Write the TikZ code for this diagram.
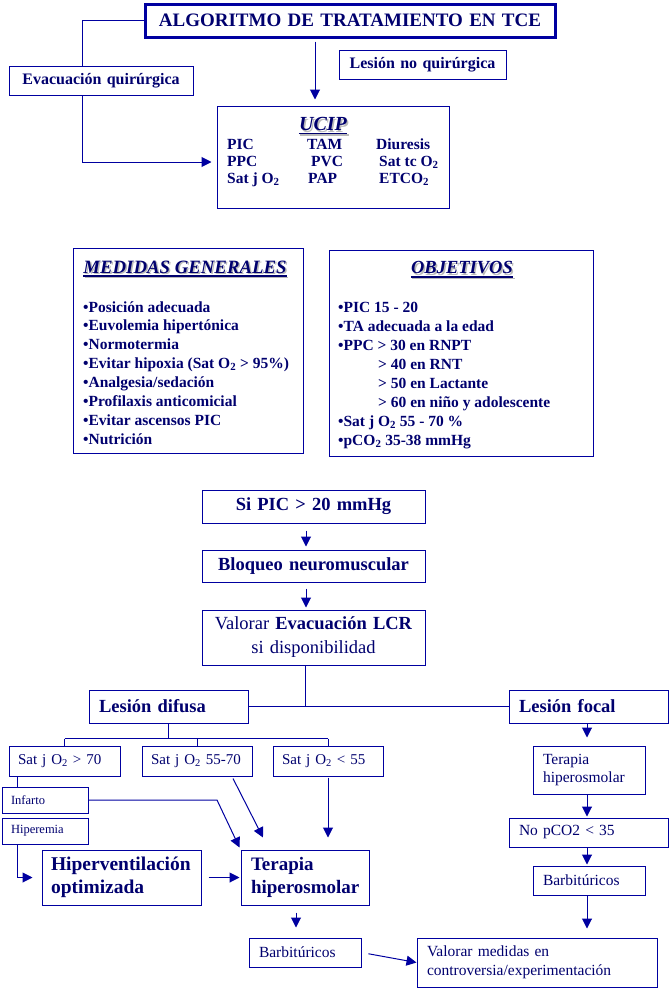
\documentclass[tikz,border=0pt]{standalone}
\usepackage{fontspec}
\setmainfont{Liberation Serif}
\usetikzlibrary{arrows.meta}
\definecolor{boxblue}{RGB}{0,0,160}
\definecolor{navy}{RGB}{0,0,110}
\tikzset{
  box/.style={draw=boxblue, line width=1pt, text=navy, inner ysep=0pt, inner xsep=10pt, align=left},
  bigb/.style={font=\fontsize{18.5}{23}\selectfont\bfseries},
  small/.style={font=\fontsize{15.5}{18.5}\selectfont},
  item/.style={font=\fontsize{15.5}{19}\selectfont\bfseries, text=navy, inner sep=0pt},
  head/.style={text=navy, inner sep=0pt},
  link/.style={draw=boxblue, line width=1pt},
  arr/.style={link, -{Triangle[length=10pt,width=10pt]}},
}
\begin{document}
\begin{tikzpicture}[x=1pt,y=-1pt]
\useasboundingbox (0,0) rectangle (670,988);
% cabecera y monitorizacion
\node[box, line width=3pt, font=\fontsize{19}{23}\selectfont\bfseries, text width=390pt, align=center, minimum height=33pt] (tce) at (350,20.5) {ALGORITMO DE TRATAMIENTO EN TCE};
\node[box, font=\fontsize{16}{19}\selectfont\bfseries, text width=164pt, align=center, minimum height=29pt] (evac) at (101,80.5) {Evacuación quirúrgica};
\node[box, font=\fontsize{16}{19}\selectfont\bfseries, text width=147pt, align=center, minimum height=29pt] (noqx) at (422.5,64.5) {Lesión no quirúrgica};
\node[box, minimum width=232pt, minimum height=102pt] (ucip) at (333,157) {};
\node[box, minimum width=230pt, minimum height=205pt] (medidas) at (188,350.5) {};
\node[box, minimum width=264pt, minimum height=206pt] (objetivos) at (461,353) {};
% titulos con sombra
\foreach \nm/\x/\y/\sz/\txt in {uciph/323/124/20/UCIP, medh/185/267/18.8/MEDIDAS GENERALES, objh/462/268/18.5/OBJETIVOS}{
  \node[head, text=gray!55, font=\fontsize{\sz}{\sz}\selectfont\bfseries\itshape] (\nm s) at (\x+1.5,\y+1.5) {\txt};
  \draw[gray!55, line width=1.5pt] ([yshift=-3pt]\nm s.base west) -- ([yshift=-3pt]\nm s.base east);
  \node[head, font=\fontsize{\sz}{\sz}\selectfont\bfseries\itshape] (\nm) at (\x,\y) {\txt};
  \draw[navy, line width=1.5pt] ([yshift=-3pt]\nm.base west) -- ([yshift=-3pt]\nm.base east);
}
\foreach \x/\y/\txt [count=\i] in {227/149/PIC, 307/149/TAM, 376/149/Diuresis, 227/166/PPC, 311/166/PVC, 379/166/Sat tc O\textsubscript{2}, 227/183/Sat j O\textsubscript{2}, 308/183/PAP, 379/183/ETCO\textsubscript{2}}
  \node[item, anchor=base west] (u\i) at (\x,\y) {\txt};
\foreach \txt [count=\i from 0] in {•Posición adecuada, •Euvolemia hipertónica, •Normotermia, •Evitar hipoxia (Sat O\textsubscript{2} > 95\%), •Analgesia/sedación, •Profilaxis anticomicial, •Evitar ascensos PIC, •Nutrición}
  \node[item, anchor=base west] (med\i) at (83,312+18.9*\i) {\txt};
\foreach \x/\txt [count=\i from 0] in {338/•PIC 15 - 20, 338/•TA adecuada a la edad, 338/•PPC > 30 en RNPT, 378/> 40 en RNT, 378/> 50 en Lactante, 378/> 60 en niño y adolescente, 338/•Sat j O\textsubscript{2} 55 - 70 \%, 338/•pCO\textsubscript{2} 35-38 mmHg}
  \node[item, anchor=base west] (obj\i) at (\x,312+19*\i) {\txt};
% secuencia si PIC elevada
\node[box, bigb, text width=203pt, align=center, minimum height=33pt] (sipic) at (313.5,506.5) {Si PIC > 20 mmHg};
\node[box, bigb, text width=203pt, align=center, minimum height=32pt] (bloqueo) at (313.5,566) {Bloqueo neuromuscular};
\node[box, font=\fontsize{18.5}{24}\selectfont, text width=203pt, align=center, minimum height=55pt] (valorar) at (313.5,637.5) {Valorar \textbf{Evacuación LCR}\\si disponibilidad};
\node[box, bigb, text width=139pt, minimum height=33pt] (difusa) at (168.5,706.5) {Lesión difusa};
\node[box, bigb, text width=139pt, minimum height=33pt] (focal) at (588.5,706.5) {Lesión focal};
\node[box, font=\fontsize{15}{18}\selectfont, inner xsep=9pt, text width=93pt, minimum height=30pt] (sat1) at (64.5,761) {Sat j O\textsubscript{2} > 70};
\node[box, font=\fontsize{15}{18}\selectfont, inner xsep=9pt, text width=92pt, minimum height=30pt] (sat2) at (197,761) {Sat j O\textsubscript{2} 55-70};
\node[box, font=\fontsize{15}{18}\selectfont, inner xsep=9pt, text width=92pt, minimum height=30pt] (sat3) at (328,761) {Sat j O\textsubscript{2} < 55};
\node[box, font=\fontsize{12.5}{15}\selectfont, inner xsep=9pt, text width=68pt, minimum height=26pt] (infarto) at (45,800) {Infarto};
\node[box, font=\fontsize{12.5}{15}\selectfont, inner xsep=9pt, text width=68pt, minimum height=26pt] (hiperemia) at (45,831) {Hiperemia};
\node[box, font=\fontsize{19.5}{23.5}\selectfont\bfseries, inner xsep=9pt, text width=141pt, minimum height=55pt] (hiperv) at (121.5,877.5) {Hiperventilación\\optimizada};
\node[box, font=\fontsize{19}{23.5}\selectfont\bfseries, text width=108pt, minimum height=55pt] (terapiaL) at (305,877.5) {Terapia\\hiperosmolar};
\node[box, small, text width=92pt, minimum height=29pt] (barbL) at (305,952.5) {Barbitúricos};
\node[box, small, text width=220pt, minimum height=49pt] (controv) at (537,962.5) {Valorar medidas en\\controversia/experimentación};
\node[box, small, text width=92pt, minimum height=48pt] (terapiaR) at (589,770) {Terapia\\hiperosmolar};
\node[box, small, text width=139pt, minimum height=29pt] (nopco) at (588.5,832.5) {No pCO2 < 35};
\node[box, small, text width=92pt, minimum height=29pt] (barbR) at (589,880.5) {Barbitúricos};
% conectores
\draw[link] (tce.west) -| ([xshift=-19pt]evac.north);
\draw[arr] ([xshift=-19pt]evac.south) |- ([xshift=-5pt,yshift=-5pt]ucip.west);
\draw[arr, shorten <=3pt, shorten >=6pt] ([xshift=-35pt]tce.south) -- ([xshift=-35pt]tce.south |- ucip.north);
\draw[arr, shorten <=7pt, shorten >=3pt] ([xshift=-7.5pt]sipic.south) -- ([xshift=-7.5pt]bloqueo.north);
\draw[arr, shorten <=6pt, shorten >=2pt] ([xshift=-7.5pt]bloqueo.south) -- ([xshift=-7.5pt]valorar.north);
\draw[link] (difusa.east) -- (focal.west);
\draw[link] ([xshift=-8.5pt]valorar.south) -- ([xshift=-8.5pt]valorar.south |- difusa.east);
\coordinate (bus) at ([yshift=-15pt]difusa.south);
\draw[link] (difusa.south) -- (bus);
\draw[link] (sat1.north |- bus) -- (sat3.north |- bus);
\foreach \n in {sat1,sat2,sat3}
  \draw[link] (\n.north |- bus) -- (\n.north);
\draw[link] ([xshift=-47.5pt]sat1.south) -- ([xshift=-47.5pt]sat1.south |- infarto.north);
\coordinate (codo) at (217,800);
\draw[arr] (infarto.east) -- (codo) -- ([xshift=-1pt,yshift=2pt]terapiaL.north west);
\draw[arr] ([xshift=36pt,yshift=-2pt]sat2.south) -- ([xshift=-42pt,yshift=12pt]terapiaL.north);
\draw[arr, shorten <=1pt, shorten >=12pt] (sat3.south) -- (sat3.south |- terapiaL.north);
\draw[arr, shorten >=9pt] ([xshift=-28pt]hiperemia.south) |- (hiperv.west);
\draw[arr, shorten <=7pt, shorten >=1pt] (hiperv.east) -- (terapiaL.west);
\draw[arr, shorten <=7pt, shorten >=10pt] ([xshift=-9pt]terapiaL.south) -- ([xshift=-9pt]terapiaL.south |- barbL.north);
\draw[arr, shorten <=7pt] (barbL.east) -- (controv.west);
\draw[arr, shorten >=8pt] ([xshift=-1.5pt]focal.south) -- ([xshift=-1.5pt]focal.south |- terapiaR.north);
\draw[arr, shorten >=1pt] ([xshift=-2pt]terapiaR.south) -- ([xshift=-2pt]terapiaR.south |- nopco.north);
\draw[arr, shorten >=1pt] ([xshift=-1.5pt]nopco.south) -- ([xshift=-1.5pt]nopco.south |- barbR.north);
\draw[arr, shorten >=9pt] ([xshift=-2pt]barbR.south) -- ([xshift=-2pt]barbR.south |- controv.north);
\end{tikzpicture}
\end{document}
